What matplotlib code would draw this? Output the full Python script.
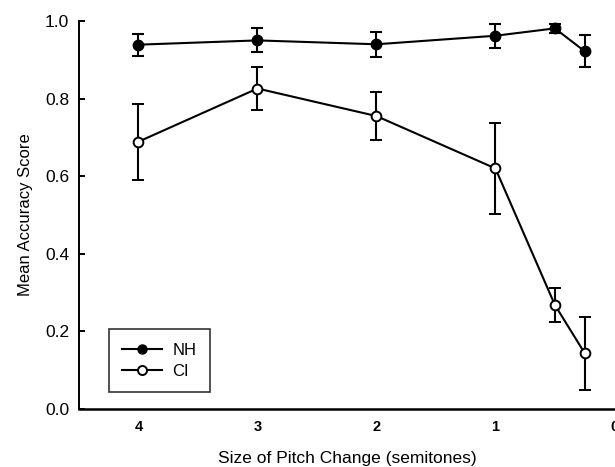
import numpy as np
import matplotlib
matplotlib.use("Agg")
import matplotlib.pyplot as plt
from matplotlib.lines import Line2D

plt.rcParams['font.family'] = ['Liberation Sans', 'DejaVu Sans']

# pitch change sizes (semitones)
pitch_change = [4, 3, 2, 1, 0.5, 0.25]

# normal hearing listeners
nh_mean = [0.939, 0.950, 0.940, 0.962, 0.981, 0.922]
nh_err = [0.028, 0.031, 0.032, 0.031, 0.011, 0.041]

# cochlear implant users
ci_mean = [0.689, 0.826, 0.755, 0.620, 0.268, 0.144]
ci_err = [0.098, 0.056, 0.061, 0.118, 0.045, 0.094]

x_ticks = [4, 3, 2, 1, 0]
y_ticks = [0.0, 0.2, 0.4, 0.6, 0.8, 1.0]

fig = plt.figure(figsize=(6.15, 4.67), dpi=100)
ax = fig.add_axes([79 / 615, 1 - 409 / 467, 536 / 615, 388 / 467])

ax.errorbar(pitch_change, nh_mean, yerr=nh_err, color="black", lw=1.5,
            marker="o", ms=7.5, mfc="black", mec="black",
            capsize=4.5, capthick=1.5, elinewidth=1.5, zorder=3)
ax.errorbar(pitch_change, ci_mean, yerr=ci_err, color="black", lw=1.5,
            marker="o", ms=7, mfc="white", mec="black", mew=1.4,
            capsize=4.5, capthick=1.5, elinewidth=1.5, zorder=3)

ax.set_xlim(4.5, -0.005)
ax.set_ylim(0, 1.0)
ax.set_xticks(x_ticks)
ax.set_xticklabels([str(v) for v in x_ticks], fontsize=10.5, fontweight="bold")
ax.set_yticks(y_ticks)
ax.set_yticklabels(["%.1f" % v for v in y_ticks], fontsize=12.5)
ax.tick_params(axis="x", length=0, pad=8)
ax.tick_params(axis="y", direction="in", length=4, width=1.4, pad=7)

ax.spines["top"].set_visible(False)
ax.spines["right"].set_visible(False)
ax.spines["left"].set_linewidth(1.4)
ax.spines["bottom"].set_linewidth(1.8)

ax.set_xlabel("Size of Pitch Change (semitones)", fontsize=12.5, labelpad=12)
ax.set_ylabel("Mean Accuracy Score", fontsize=12, labelpad=9)

# legend without the error bars
handles = [
    Line2D([], [], color="black", lw=1.5, marker="o", ms=6.5, mfc="black", mec="black"),
    Line2D([], [], color="black", lw=1.5, marker="o", ms=6.5, mfc="white", mec="black", mew=1.4),
]
leg = ax.legend(handles, ["NH", "CI"], loc="lower left", bbox_to_anchor=(0.056, 0.044),
                borderaxespad=0, fontsize=12, frameon=True, fancybox=False,
                edgecolor="black", handlelength=2.4, handletextpad=0.6,
                borderpad=0.8, labelspacing=0.35)
leg.get_frame().set_linewidth(1.2)

fig.savefig("out.png", dpi=100)
